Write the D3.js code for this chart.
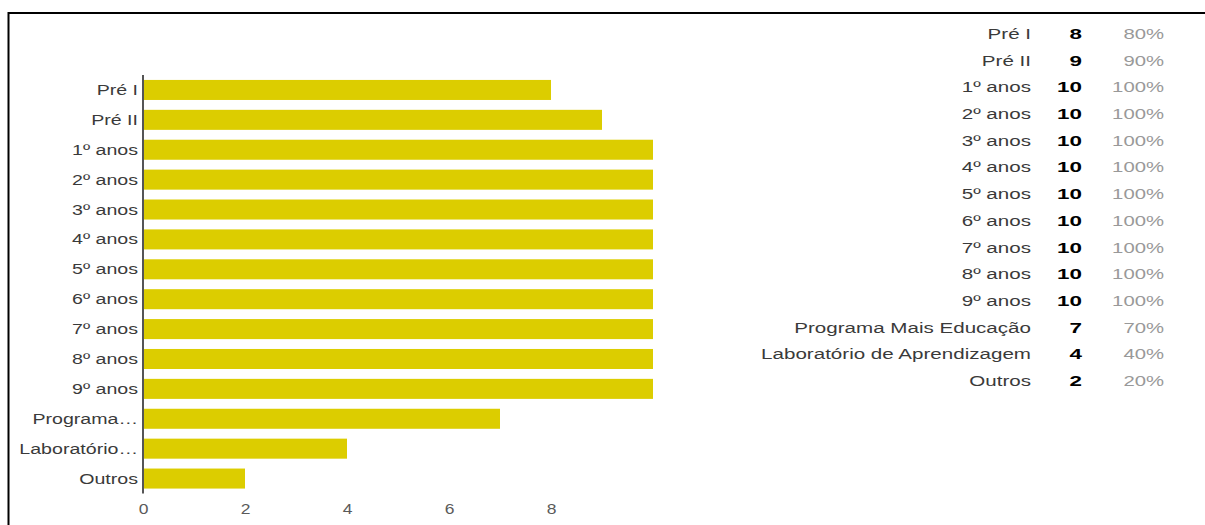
<!DOCTYPE html>
<html>
<head>
<meta charset="utf-8">
<script src="https://cdn.jsdelivr.net/npm/d3@7"></script>
<style>
  html, body { margin: 0; padding: 0; background: #fff; }
  svg { display: block; font-family: "Liberation Sans", Arial, sans-serif; }
</style>
</head>
<body>
<svg id="chart" width="1205" height="525"></svg>
<script>
const categories = ["Pré I", "Pré II", "1º anos", "2º anos", "3º anos", "4º anos", "5º anos", "6º anos", "7º anos", "8º anos", "9º anos", "Programa Mais Educação", "Laboratório de Aprendizagem", "Outros"];
const axisLabels = ["Pré I", "Pré II", "1º anos", "2º anos", "3º anos", "4º anos", "5º anos", "6º anos", "7º anos", "8º anos", "9º anos", "Programa…", "Laboratório…", "Outros"];
const counts = [8, 9, 10, 10, 10, 10, 10, 10, 10, 10, 10, 7, 4, 2];
const percents = ["80%", "90%", "100%", "100%", "100%", "100%", "100%", "100%", "100%", "100%", "100%", "70%", "40%", "20%"];
const xTicks = [0, 2, 4, 6, 8];

const FONT = "Liberation Sans, Arial, sans-serif";
const svg = d3.select("#chart");

// frame
svg.append("path")
  .attr("d", "M8.5,525 L8.5,13 L1205,13")
  .attr("fill", "none").attr("stroke", "#000").attr("stroke-width", 2);

const x = d3.scaleLinear().domain([0, 10]).range([143, 653]);
const y = d3.scaleBand().domain(categories).range([75, 493.5]).paddingInner(0.33).paddingOuter(0.165);

// bars
svg.append("g").selectAll("rect").data(categories).join("rect")
  .attr("x", x(0) + 1)
  .attr("y", d => y(d))
  .attr("width", (d, i) => x(counts[i]) - x(0) - 1)
  .attr("height", y.bandwidth())
  .attr("fill", "#dccd00");

// helper: horizontally stretched text (the reference glyphs are wide)
function stretch(sel, sx) {
  sel.each(function () {
    const t = d3.select(this);
    const px = +t.attr("x") || 0;
    const py = +t.attr("y") || 0;
    t.attr("x", 0).attr("y", 0)
      .attr("transform", `translate(${px},${py}) scale(${sx},1)`);
  });
}

// y axis
const yAxis = d3.axisLeft(y).tickSize(0).tickPadding(5)
  .tickFormat((d, i) => axisLabels[i]);
const gy = svg.append("g").attr("transform", `translate(${x(0)},0)`).call(yAxis);
gy.select(".domain").attr("stroke", "#555").attr("stroke-width", 2).attr("d", `M0,75V493.5`);
gy.selectAll("text").attr("font-size", 14).attr("fill", "#3a3a3a").attr("font-family", FONT)
  .attr("dy", "0.36em");
gy.selectAll(".tick text").call(stretch, 1.4);

// x axis
const xAxis = d3.axisBottom(x).tickValues(xTicks).tickSize(0).tickPadding(7);
const gx = svg.append("g").attr("transform", `translate(0,${497})`).call(xAxis);
gx.select(".domain").remove();
gx.selectAll("text").attr("font-size", 14).attr("fill", "#5a5a5a").attr("font-family", FONT);
gx.selectAll(".tick text").call(stretch, 1.25);

// summary table
const rowY = d3.scalePoint().domain(categories).range([34, 381]);
const tbl = svg.append("g").attr("font-size", 14).attr("font-family", FONT);
tbl.selectAll("text.lab").data(categories).join("text").attr("class", "lab")
  .attr("x", 1031).attr("y", d => rowY(d) + 5)
  .attr("text-anchor", "end").attr("fill", "#3a3a3a").text(d => d)
  .call(stretch, 1.47);
tbl.selectAll("text.cnt").data(categories).join("text").attr("class", "cnt")
  .attr("x", 1082).attr("y", d => rowY(d) + 5)
  .attr("text-anchor", "end").attr("font-weight", "bold").attr("fill", "#000")
  .text((d, i) => counts[i])
  .call(stretch, 1.6);
tbl.selectAll("text.pct").data(categories).join("text").attr("class", "pct")
  .attr("x", 1164).attr("y", d => rowY(d) + 5)
  .attr("text-anchor", "end").attr("fill", "#999")
  .text((d, i) => percents[i])
  .call(stretch, 1.45);
</script>
</body>
</html>
